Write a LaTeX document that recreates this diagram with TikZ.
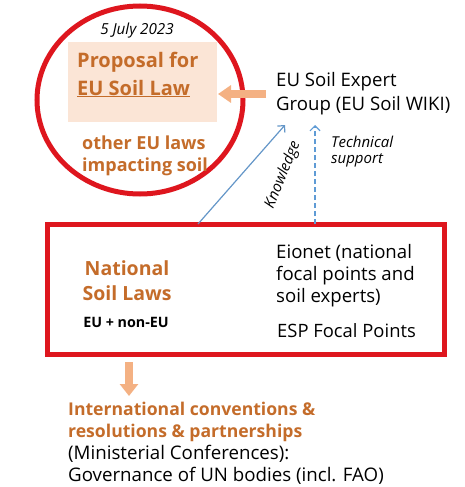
\documentclass[tikz,border=0pt]{standalone}
\usepackage{fontspec}
\setmainfont{Open Sans}
\usetikzlibrary{arrows.meta,shapes.geometric}
\definecolor{cred}{RGB}{222,22,30}
\definecolor{corange}{RGB}{196,108,42}
\definecolor{cpeach}{RGB}{251,229,214}
\definecolor{carrow}{RGB}{244,177,131}
\definecolor{cblue}{RGB}{100,150,200}
\definecolor{cdash}{RGB}{95,155,213}
\tikzset{
  txt/.style={inner sep=0pt, anchor=base west, align=left},
  body/.style={txt, font=\fontsize{18.6}{24}\selectfont},
  orangebold/.style={txt, text=corange, font=\bfseries\fontsize{18}{21.5}\selectfont},
  lbl/.style={txt, font=\itshape\fontsize{15}{16}\selectfont},
  fatarrow/.style={draw=carrow, line width=8.5pt, -{Triangle[width=17pt,length=13pt]}},
  thinarrow/.style={draw=cblue, line width=1.2pt, -{Straight Barb[length=5pt,width=10pt]}},
}
\begin{document}
\begin{tikzpicture}[x=1pt,y=-1pt]
\useasboundingbox (0,0) rectangle (465,487);
% circle
\node[draw=cred, line width=5pt, ellipse, inner sep=0pt, minimum width=206pt, minimum height=188pt] (circ) at (140,100) {};
% proposal box
\node[fill=cpeach, inner sep=0pt, minimum width=149pt, minimum height=80pt] (proposal) at (142.5,82) {};
\node[txt, anchor=base, font=\itshape\fontsize{15.2}{16}\selectfont] (date) at (137,35) {5 July 2023};
\node[txt, text=corange, font=\bfseries\fontsize{20}{28}\selectfont] (proptxt) at (77,95) {Proposal for\\\underline{EU Soil Law}};
\node[orangebold] (other) at (82,171) {other EU laws\\impacting soil};
% expert group
\node[body] (expert) at (276,110) {EU Soil Expert\\Group (EU Soil WIKI)};
\coordinate (ta1) at (266,94);
\coordinate (ta2) at (218,94);
\draw[fatarrow] (ta1) -- (ta2);
% national box
\node[draw=cred, line width=5pt, rectangle, inner sep=0pt, minimum width=397pt, minimum height=130pt] (natbox) at (245.5,289.5) {};
\node[txt, anchor=base, align=center, text=corange, font=\bfseries\fontsize{19.5}{25}\selectfont] (national) at (127,300) {National\\Soil Laws};
\node[txt, anchor=base, font=\bfseries\fontsize{14.3}{15}\selectfont] (euplus) at (126,327) {EU + non-EU};
\node[body, font=\fontsize{18.6}{22}\selectfont] (eionet) at (276,302) {Eionet (national\\focal points and\\soil experts)};
\node[body, font=\fontsize{18.4}{22}\selectfont] (esp) at (277,337) {ESP Focal Points};
% connectors
\coordinate (k1) at (198,224);
\coordinate (k2) at (285,125);
\draw[thinarrow] (k1) -- (k2);
\coordinate (d1) at (315,224);
\coordinate (d2) at (315,125);
\draw[thinarrow, draw=cdash, dashed, dash pattern=on 5pt off 3pt] (d1) -- (d2);
\node[lbl, anchor=center, rotate=68] (know) at (283,175) {Knowledge};
\node[lbl] (tech) at (331,163) {Technical\\support};
% bottom
\coordinate (b1) at (129,362);
\coordinate (b2) at (129,396);
\draw[fatarrow, -{Triangle[width=18pt,length=12pt]}] (b1) -- (b2);
\node[txt, font=\fontsize{18.7}{22}\selectfont] (intl) at (68,481) {{\color{corange}\bfseries\fontsize{17.6}{22}\selectfont International conventions \&}\\{\color{corange}\bfseries\fontsize{17.6}{22}\selectfont resolutions \& partnerships}\\(Ministerial Conferences):\\Governance of UN bodies (incl. FAO)};
\end{tikzpicture}
\end{document}
